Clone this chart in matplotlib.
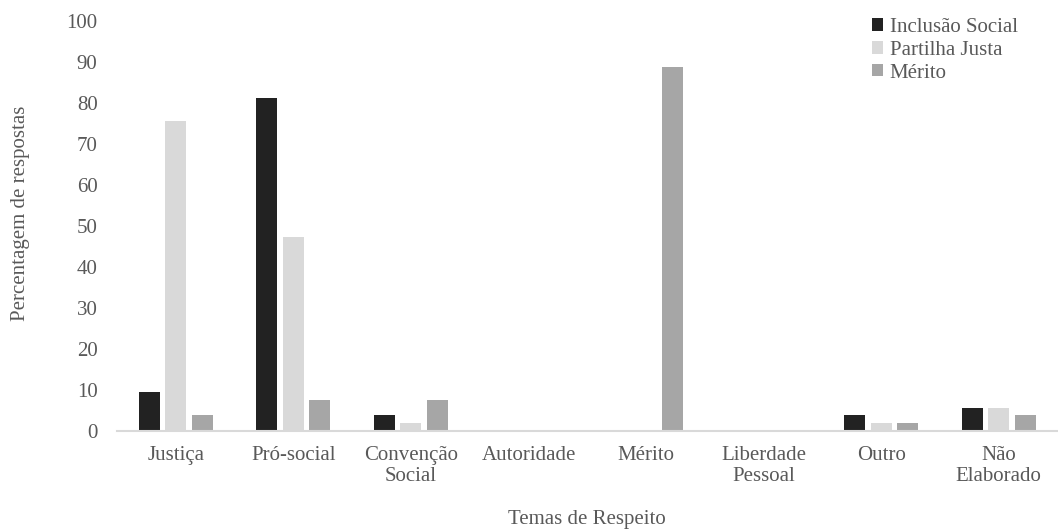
import matplotlib.pyplot as plt
import numpy as np

categories = ["Justiça", "Pró-social", "Convenção\nSocial", "Autoridade",
              "Mérito", "Liberdade\nPessoal", "Outro", "Não\nElaborado"]
inclusao_social = [9.4, 81.1, 3.8, 0, 0, 0, 3.8, 5.7]
partilha_justa = [75.5, 47.2, 1.9, 0, 0, 0, 1.9, 5.7]
merito = [3.8, 7.5, 7.5, 0, 88.7, 0, 1.9, 3.8]

series = [
    ("Inclusão Social", inclusao_social, "#222222"),
    ("Partilha Justa", partilha_justa, "#d9d9d9"),
    ("Mérito", merito, "#a6a6a6"),
]

plt.rcParams["font.family"] = ["Liberation Serif", "DejaVu Serif"]
text_color = "#595959"
fs = 15

fig = plt.figure(figsize=(10.58, 5.31), dpi=100)
ax = fig.add_axes([0.1106, 0.1883, 0.889, 0.7722])

x = np.arange(len(categories))
width = 0.178
step = 0.225
for i, (name, values, color) in enumerate(series):
    ax.bar(x + (i - 1) * step, values, width, color=color, label=name)

ax.set_xlim(-0.5, len(categories) - 0.5)
ax.set_ylim(0, 100)
ax.set_yticks(range(0, 101, 10))
ax.set_xticks(x)
ax.set_xticklabels(categories, linespacing=1.1)

for side in ["top", "right", "left"]:
    ax.spines[side].set_visible(False)
ax.spines["bottom"].set_color("#d9d9d9")
ax.spines["bottom"].set_linewidth(1.5)
ax.tick_params(axis="both", length=0, labelsize=fs, colors=text_color)
ax.tick_params(axis="y", pad=14)
ax.tick_params(axis="x", pad=11)

ax.set_xlabel("Temas de Respeito", fontsize=fs, color=text_color)
ax.xaxis.set_label_coords(0.5, -0.193)
ax.set_ylabel("Percentagem de respostas", fontsize=fs, color=text_color)
ax.yaxis.set_label_coords(-0.093, 0.53)

leg = fig.legend(loc="upper left", bbox_to_anchor=(872 / 1058, 1 - 18 / 531),
                 frameon=False, fontsize=fs, handlelength=0.55,
                 handleheight=0.55, handletextpad=0.3, labelspacing=0.18,
                 borderpad=0, borderaxespad=0)
for t in leg.get_texts():
    t.set_color(text_color)

fig.savefig("out.png", dpi=100)
